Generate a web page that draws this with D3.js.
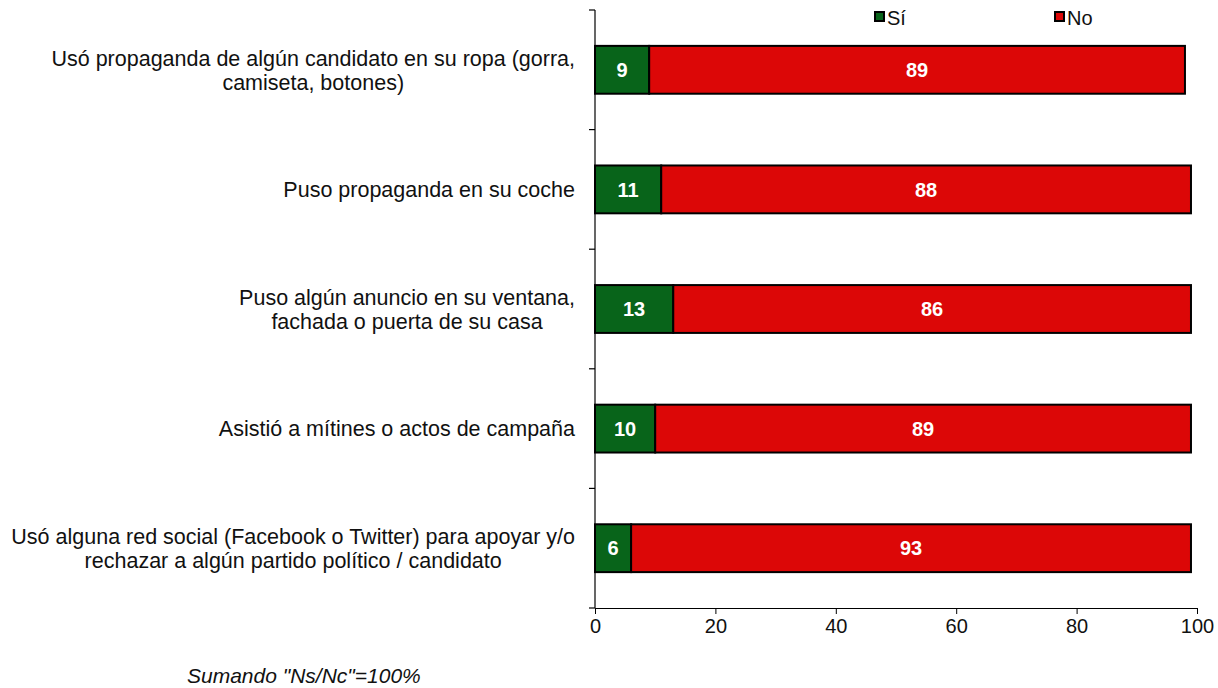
<!DOCTYPE html>
<html>
<head>
<meta charset="utf-8">
<script src="https://cdn.jsdelivr.net/npm/d3@7"></script>
<style>
  body { margin: 0; background: #fff; }
  svg text { font-family: "Liberation Sans", Arial, sans-serif; }
</style>
</head>
<body>
<div id="chart"></div>
<script>
// Data
const categories = [
  ["Usó propaganda de algún candidato en su ropa (gorra,", "camiseta, botones)"],
  ["Puso propaganda en su coche"],
  ["Puso algún anuncio en su ventana,", "fachada o puerta de su casa"],
  ["Asistió a mítines o actos de campaña"],
  ["Usó alguna red social (Facebook o Twitter) para apoyar y/o", "rechazar a algún partido político / candidato"]
];
const siValues = [9, 11, 13, 10, 6];
const noValues = [89, 88, 86, 89, 93];
const seriesNames = ["Sí", "No"];
const xTicks = [0, 20, 40, 60, 80, 100];
const footnote = 'Sumando "Ns/Nc"=100%';

const width = 1218;
const height = 688;
const margin = { top: 10, right: 21, bottom: 80, left: 595 };

const colors = { "Sí": "#08641a", "No": "#dc0707" };

const svg = d3.select("#chart")
  .append("svg")
  .attr("width", width)
  .attr("height", height);

const x = d3.scaleLinear()
  .domain([0, 100])
  .range([margin.left, width - margin.right]);

const y = d3.scaleBand()
  .domain(d3.range(categories.length))
  .range([margin.top, height - margin.bottom])
  .paddingInner(0.6)
  .paddingOuter(0.3);

// stacked data
const rows = categories.map((c, i) => ({
  i,
  parts: [
    { key: "Sí", x0: 0, x1: siValues[i], v: siValues[i] },
    { key: "No", x0: siValues[i], x1: siValues[i] + noValues[i], v: noValues[i] }
  ]
}));

// x axis
svg.append("g")
  .attr("transform", `translate(0,${height - margin.bottom})`)
  .call(d3.axisBottom(x).tickValues(xTicks).tickSize(6).tickSizeOuter(0).tickPadding(5))
  .call((g) => g.select(".domain").attr("stroke", "#000").attr("stroke-width", 1.2))
  .call((g) => g.selectAll(".tick line").attr("stroke", "#000"))
  .call((g) => g.selectAll(".tick text")
    .attr("font-size", 20)
    .attr("fill", "#111")
    .style("font-family", "'Liberation Sans', Arial, sans-serif"));

// y axis line + boundary ticks
const yTop = margin.top, yBot = height - margin.bottom;
svg.append("line")
  .attr("x1", x(0)).attr("x2", x(0))
  .attr("y1", yTop).attr("y2", yBot)
  .attr("stroke", "#000").attr("stroke-width", 1.2);

const boundaries = d3.range(categories.length + 1).map((k) => yTop + k * (yBot - yTop) / categories.length);
svg.append("g")
  .selectAll("line")
  .data(boundaries)
  .join("line")
  .attr("x1", x(0) - 6).attr("x2", x(0))
  .attr("y1", (d) => d).attr("y2", (d) => d)
  .attr("stroke", "#000").attr("stroke-width", 1.2);

// bars
const rowG = svg.append("g")
  .selectAll("g")
  .data(rows)
  .join("g");

rowG.selectAll("rect")
  .data((d) => d.parts.map((p) => ({ ...p, i: d.i })))
  .join("rect")
  .attr("x", (d) => x(d.x0))
  .attr("y", (d) => y(d.i))
  .attr("width", (d) => x(d.x1) - x(d.x0))
  .attr("height", y.bandwidth())
  .attr("fill", (d) => colors[d.key])
  .attr("stroke", "#000")
  .attr("stroke-width", 2);

rowG.selectAll("text")
  .data((d) => d.parts.map((p) => ({ ...p, i: d.i })))
  .join("text")
  .attr("x", (d) => (x(d.x0) + x(d.x1)) / 2)
  .attr("y", (d) => y(d.i) + y.bandwidth() / 2)
  .attr("dy", "0.36em")
  .attr("text-anchor", "middle")
  .attr("font-size", 20)
  .attr("font-weight", "bold")
  .attr("fill", "#fff")
  .text((d) => d.v);

// category labels: lines centred on each other, right edge near the axis
const labelRight = 575;
const lineH = 24;
categories.forEach((lines, i) => {
  const t = svg.append("text")
    .attr("font-size", 21.5)
    .attr("fill", "#111")
    .attr("text-anchor", "middle");
  const cy = y(i) + y.bandwidth() / 2;
  const spans = lines.map((ln, k) => t.append("tspan")
    .attr("y", cy + (k - (lines.length - 1) / 2) * lineH)
    .attr("dy", "0.36em")
    .text(ln));
  const maxW = d3.max(spans, (s) => s.node().getComputedTextLength());
  spans.forEach((s) => s.attr("x", labelRight - maxW / 2));
});

// legend
const legendX = [875, 1055];
const legend = svg.append("g")
  .selectAll("g")
  .data(seriesNames)
  .join("g")
  .attr("transform", (d, i) => `translate(${legendX[i]},12)`);
legend.append("rect")
  .attr("width", 9).attr("height", 9)
  .attr("fill", (d) => colors[d])
  .attr("stroke", "#000").attr("stroke-width", 2);
legend.append("text")
  .attr("x", 12).attr("y", 6)
  .attr("dy", "0.36em")
  .attr("font-size", 20)
  .attr("fill", "#111")
  .text((d) => d);

// footnote
svg.append("text")
  .attr("x", 187).attr("y", 683)
  .attr("font-size", 21)
  .attr("font-style", "italic")
  .attr("fill", "#111")
  .text(footnote);
</script>
</body>
</html>
